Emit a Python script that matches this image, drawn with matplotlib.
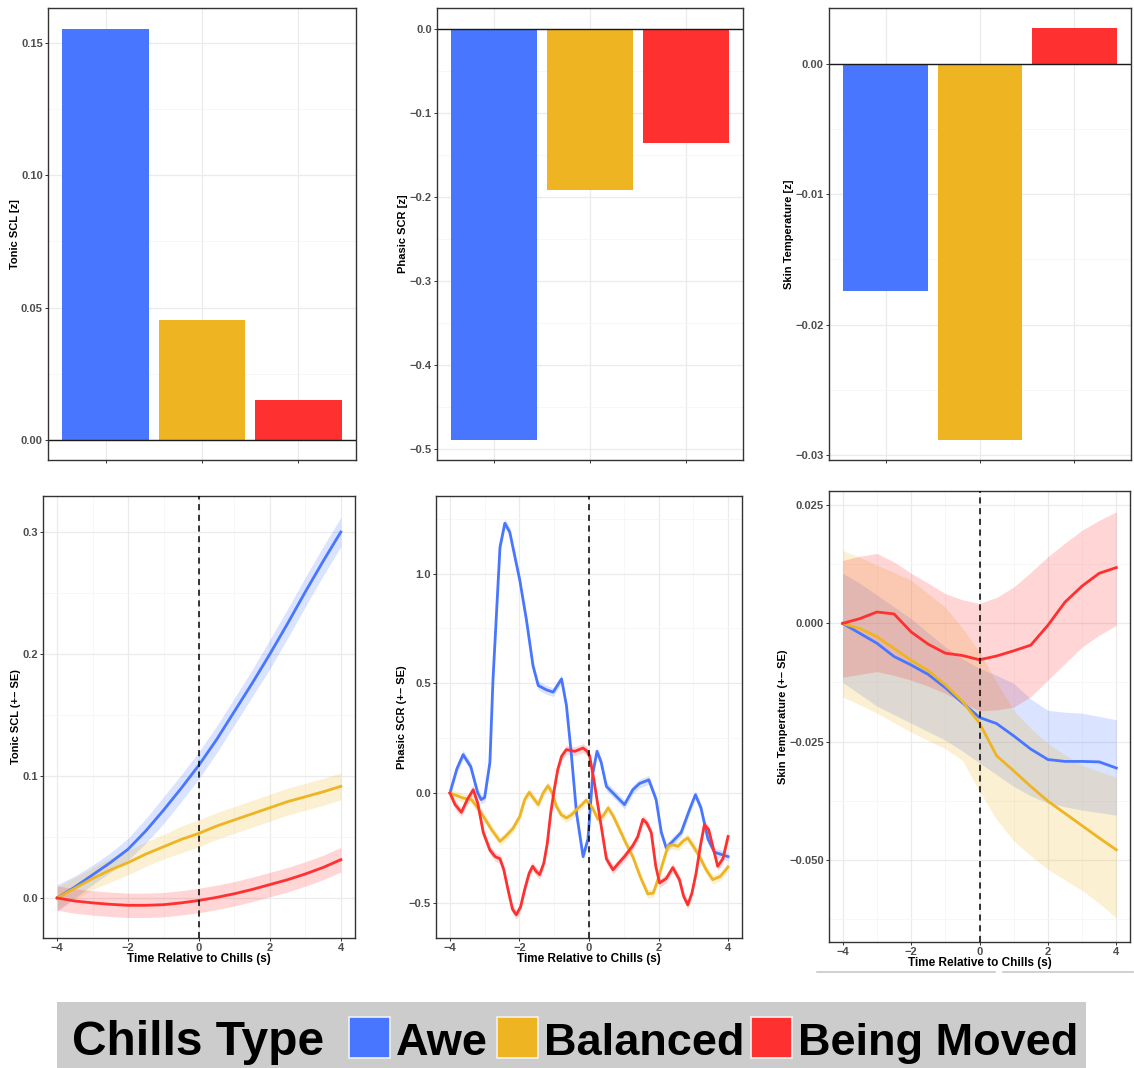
import numpy as np
import matplotlib
matplotlib.use('Agg')
import matplotlib.pyplot as plt
from matplotlib.patches import Rectangle
from matplotlib.lines import Line2D
from matplotlib.ticker import FixedLocator, FuncFormatter

plt.rcParams['font.family'] = ['Liberation Sans', 'DejaVu Sans']

W, H = 1134, 1068

# Chills types and colours
TYPES = ['Awe', 'Balanced', 'Being Moved']
COLORS = ['#4876FF', '#EEB422', '#FF3030']

# Top row: mean z-scores per chills type
tonic_bar = [0.1553, 0.0454, 0.0151]
phasic_bar = [-0.489, -0.192, -0.136]
skin_bar = [-0.01742, -0.02886, 0.00276]

# Bottom left: tonic SCL time course (+- SE)
t_tonic = [-4, -3.5, -3, -2.5, -2, -1.5, -1, -0.5, 0, 0.5, 1, 1.5, 2, 2.5, 3, 3.5, 4]
tonic_awe = [0, 0.009, 0.019, 0.029, 0.040, 0.055, 0.072, 0.090, 0.109, 0.130, 0.153,
             0.176, 0.200, 0.225, 0.251, 0.276, 0.300]
tonic_bal = [0, 0.008, 0.016, 0.023, 0.029, 0.036, 0.042, 0.048, 0.053, 0.059, 0.064,
             0.069, 0.074, 0.079, 0.083, 0.087, 0.0915]
tonic_mov = [0, -0.0025, -0.004, -0.0052, -0.006, -0.006, -0.0055, -0.004, -0.002, 0.0005,
             0.0035, 0.007, 0.011, 0.015, 0.0197, 0.025, 0.0314]
tonic_se_awe = [0.011, 0.009, 0.008, 0.008, 0.009, 0.010, 0.011, 0.011, 0.011, 0.011, 0.011,
                0.011, 0.012, 0.012, 0.012, 0.012, 0.012]
tonic_se_bal = [0.009, 0.009, 0.009, 0.010, 0.010, 0.010, 0.010, 0.011, 0.011, 0.011, 0.011,
                0.011, 0.011, 0.011, 0.011, 0.011, 0.011]
tonic_se_mov = [0.010, 0.010, 0.010, 0.010, 0.010, 0.010, 0.010, 0.010, 0.010, 0.010, 0.010,
                0.010, 0.010, 0.010, 0.010, 0.010, 0.010]

# Bottom middle: phasic SCR time course
t_ph_awe = [-4, -3.8, -3.62, -3.4, -3.2, -3.1, -3.0, -2.85, -2.76, -2.66, -2.56, -2.42, -2.28,
            -1.99, -1.8, -1.61, -1.46, -1.22, -1.03, -0.79, -0.65, -0.51, -0.36, -0.17, -0.03,
            0.11, 0.23, 0.35, 0.5, 0.69, 1.02, 1.26, 1.45, 1.72, 1.93, 2.08, 2.22, 2.41, 2.65,
            2.89, 3.06, 3.22, 3.42, 3.61, 4.0]
ph_awe = [0, 0.11, 0.175, 0.12, 0.0, -0.03, -0.02, 0.14, 0.52, 0.82, 1.12, 1.23, 1.19,
          0.97, 0.79, 0.58, 0.49, 0.47, 0.46, 0.52, 0.40, 0.18, -0.09, -0.29, -0.21,
          0.09, 0.19, 0.14, 0.03, 0.0, -0.053, 0.015, 0.043, 0.06, -0.03, -0.18, -0.25, -0.22,
          -0.18, -0.076, -0.008, -0.068, -0.21, -0.27, -0.29]
t_ph_bal = [-4, -3.62, -3.38, -3.2, -3.04, -2.8, -2.56, -2.4, -2.18, -1.99, -1.85, -1.72, -1.6,
            -1.46, -1.32, -1.18, -1.06, -0.94, -0.8, -0.65, -0.5, -0.36, -0.2, -0.08, 0.1, 0.26,
            0.4, 0.55, 0.7, 0.88, 1.06, 1.26, 1.47, 1.69, 1.85, 1.98, 2.12, 2.27, 2.4, 2.56,
            2.7, 2.84, 3.0, 3.18, 3.37, 3.56, 3.78, 4.0]
ph_bal = [0, -0.023, -0.03, -0.068, -0.106, -0.167, -0.22, -0.198, -0.16, -0.106, -0.03, 0.003,
          -0.023, -0.053, 0.0, 0.033, 0.0, -0.06, -0.099, -0.114, -0.099, -0.076, -0.053, -0.033,
          -0.068, -0.12, -0.106, -0.068, -0.106, -0.167, -0.228, -0.29, -0.38, -0.46, -0.456,
          -0.395, -0.32, -0.243, -0.236, -0.243, -0.22, -0.205, -0.243, -0.29, -0.35, -0.395,
          -0.38, -0.337]
t_ph_mov = [-4, -3.85, -3.67, -3.5, -3.33, -3.2, -3.04, -2.85, -2.7, -2.56, -2.45, -2.33, -2.2,
            -2.09, -1.97, -1.85, -1.72, -1.62, -1.52, -1.42, -1.3, -1.2, -1.1, -1.0, -0.9, -0.79,
            -0.65, -0.41, -0.17, -0.05, 0.02, 0.14, 0.26, 0.38, 0.5, 0.69, 0.85, 1.02, 1.26, 1.4,
            1.55, 1.66, 1.79, 1.92, 2.03, 2.22, 2.41, 2.6, 2.72, 2.84, 2.96, 3.08, 3.2, 3.32,
            3.44, 3.56, 3.7, 3.85, 4.0]
ph_mov = [0, -0.053, -0.088, -0.03, 0.015, -0.046, -0.18, -0.26, -0.29, -0.30, -0.35, -0.44,
          -0.53, -0.555, -0.52, -0.44, -0.365, -0.334, -0.357, -0.372, -0.32, -0.23, -0.09, 0.015,
          0.106, 0.167, 0.198, 0.19, 0.205, 0.19, 0.167, 0.06, -0.06, -0.18, -0.30, -0.35, -0.32,
          -0.29, -0.24, -0.2, -0.12, -0.137, -0.18, -0.334, -0.41, -0.39, -0.34, -0.395, -0.47,
          -0.51, -0.456, -0.365, -0.243, -0.144, -0.167, -0.243, -0.334, -0.30, -0.198]
phasic_se = [0.02, 0.02, 0.02]

# Bottom right: skin temperature time course with SE band limits
t_skin = [-4, -3.5, -3, -2.5, -2, -1.5, -1, -0.5, 0, 0.5, 1, 1.5, 2, 2.5, 3, 3.5, 4]
skin_awe = [0, -0.0021, -0.0042, -0.0070, -0.0088, -0.0108, -0.0136, -0.0168, -0.0199, -0.0212,
            -0.0238, -0.0266, -0.0288, -0.0292, -0.0292, -0.0293, -0.0306]
skin_bal = [0, -0.0011, -0.0028, -0.0053, -0.0078, -0.0100, -0.0130, -0.0165, -0.0211, -0.0280,
            -0.0312, -0.0345, -0.0376, -0.0402, -0.0428, -0.0454, -0.0479]
skin_mov = [0, 0.0010, 0.0024, 0.0020, -0.0018, -0.0044, -0.0063, -0.0068, -0.0077, -0.0069,
            -0.0058, -0.0046, -0.0004, 0.0045, 0.0079, 0.0106, 0.0118]
skin_awe_hi = [0.0106, 0.0085, 0.0060, 0.0035, 0.0010, -0.0020, -0.0050, -0.0075, -0.0095,
               -0.0110, -0.0127, -0.0160, -0.0184, -0.0188, -0.0190, -0.0197, -0.0204]
skin_awe_lo = [-0.0125, -0.0150, -0.0175, -0.0193, -0.0211, -0.0229, -0.0247, -0.0270, -0.0295,
               -0.0320, -0.0345, -0.0365, -0.0380, -0.0388, -0.0395, -0.0400, -0.0406]
skin_bal_hi = [0.0154, 0.0140, 0.0123, 0.0108, 0.0091, 0.0063, 0.0034, -0.0010, -0.0060,
               -0.0125, -0.0184, -0.0222, -0.0254, -0.0278, -0.0300, -0.0313, -0.0325]
skin_bal_lo = [-0.0156, -0.0172, -0.0190, -0.0210, -0.0230, -0.0248, -0.0265, -0.0290, -0.0355,
               -0.0415, -0.0460, -0.0492, -0.0520, -0.0543, -0.0565, -0.0592, -0.0623]
skin_mov_hi = [0.0133, 0.0142, 0.0148, 0.0130, 0.0106, 0.0085, 0.0063, 0.0050, 0.0042, 0.0055,
               0.0077, 0.0108, 0.0141, 0.0170, 0.0197, 0.0218, 0.0236]
skin_mov_lo = [-0.0114, -0.0108, -0.0102, -0.0110, -0.0120, -0.0133, -0.0148, -0.0168, -0.0185,
               -0.0183, -0.0177, -0.0155, -0.0120, -0.0085, -0.0050, -0.0025, -0.0004]


def px(x, y):
    return x / W, 1 - y / H


def axes_px(fig, x0, y0, x1, y1):
    l, t = px(x0, y0)
    r, b = px(x1, y1)
    return fig.add_axes([l, b, r - l, t - b])


def minus_fmt(dec):
    def f(v, pos):
        if abs(v) < 1e-12:
            v = 0.0
        return f"{v:.{dec}f}".replace('-', '\u2212')
    return FuncFormatter(f)


def style(ax, ylabel, major, minor, dec):
    ax.yaxis.set_major_locator(FixedLocator(major))
    ax.yaxis.set_minor_locator(FixedLocator(minor))
    ax.yaxis.set_major_formatter(minus_fmt(dec))
    ax.grid(which='major', color='#EBEBEB', lw=0.9)
    ax.grid(which='minor', color='#F4F4F4', lw=0.5)
    ax.set_axisbelow(True)
    for s in ax.spines.values():
        s.set_color('#333333')
        s.set_linewidth(1.0)
    ax.tick_params(which='major', length=2.2, width=0.7, color='#333333', pad=1.5,
                   labelsize=8, labelcolor='#4D4D4D')
    ax.tick_params(which='minor', length=0)
    for lab in ax.get_xticklabels() + ax.get_yticklabels():
        lab.set_fontweight('bold')
    ax.set_ylabel(ylabel, fontsize=8, fontweight='bold', labelpad=1)


fig = plt.figure(figsize=(W / 100, H / 100), dpi=100)

# ---- top row: bar charts
x = np.arange(len(TYPES))
bar_specs = [
    ((48, 8, 356, 460), tonic_bar, 'Tonic SCL [z]', (-0.0076, 0.1632),
     [0, 0.05, 0.10, 0.15], [0.025, 0.075, 0.125], 2),
    ((437, 8, 743, 460), phasic_bar, 'Phasic SCR [z]', (-0.513, 0.025),
     [0, -0.1, -0.2, -0.3, -0.4, -0.5], [-0.05, -0.15, -0.25, -0.35, -0.45], 1),
    ((829, 8, 1131, 460), skin_bar, 'Skin Temperature [z]', (-0.0304, 0.0043),
     [0, -0.01, -0.02, -0.03], [-0.005, -0.015, -0.025], 2),
]
for box, vals, lab, ylim, major, minor, dec in bar_specs:
    ax = axes_px(fig, *box)
    ax.bar(x, vals, width=0.9, color=COLORS)
    ax.axhline(0, color='#1A1A1A', lw=1.0)
    ax.set_xlim(-0.6, 2.6)
    ax.set_ylim(*ylim)
    ax.set_xticks(x)
    ax.set_xticklabels([''] * len(x))
    style(ax, lab, major, minor, dec)

# ---- bottom row: time courses
x_major = [-4, -2, 0, 2, 4]
x_minor = [-3, -1, 1, 3]


def time_axis(ax):
    ax.set_xlim(-4.4, 4.4)
    ax.xaxis.set_major_locator(FixedLocator(x_major))
    ax.xaxis.set_minor_locator(FixedLocator(x_minor))
    ax.xaxis.set_major_formatter(minus_fmt(0))
    ax.axvline(0, color='black', lw=1.1, ls=(0, (4, 3)), zorder=5)
    ax.set_xlabel('Time Relative to Chills (s)', fontsize=8.5, fontweight='bold', labelpad=0)


# tonic
ax = axes_px(fig, 43, 496, 355, 938)
for m, se, c in zip([tonic_awe, tonic_bal, tonic_mov],
                    [tonic_se_awe, tonic_se_bal, tonic_se_mov], COLORS):
    m, se = np.array(m), np.array(se)
    ax.fill_between(t_tonic, m - se, m + se, color=c, alpha=0.2, lw=0)
    ax.plot(t_tonic, m, color=c, lw=2)
ax.set_ylim(-0.0328, 0.3295)
time_axis(ax)
style(ax, 'Tonic SCL (+\u2013 SE)', [0, 0.1, 0.2, 0.3], [0.05, 0.15, 0.25], 1)

# phasic
ax = axes_px(fig, 436, 496, 742, 938)
for t, m, se, c in zip([t_ph_awe, t_ph_bal, t_ph_mov], [ph_awe, ph_bal, ph_mov],
                       phasic_se, COLORS):
    m = np.array(m)
    ax.fill_between(t, m - se, m + se, color=c, alpha=0.2, lw=0)
    ax.plot(t, m, color=c, lw=2, solid_joinstyle='round')
ax.set_ylim(-0.661, 1.354)
time_axis(ax)
style(ax, 'Phasic SCR (+\u2013 SE)', [-0.5, 0, 0.5, 1.0], [-0.25, 0.25, 0.75, 1.25], 1)

# skin temperature
ax = axes_px(fig, 829, 491, 1130, 942)
for m, lo, hi, c in zip([skin_awe, skin_bal, skin_mov],
                        [skin_awe_lo, skin_bal_lo, skin_mov_lo],
                        [skin_awe_hi, skin_bal_hi, skin_mov_hi], COLORS):
    ax.fill_between(t_skin, lo, hi, color=c, alpha=0.2, lw=0)
    ax.plot(t_skin, m, color=c, lw=2)
ax.set_ylim(-0.0674, 0.028)
time_axis(ax)
style(ax, 'Skin Temperature (+\u2013 SE)', [-0.05, -0.025, 0, 0.025],
      [-0.0625, -0.0375, -0.0125, 0.0125], 3)

# stray rule lines under the last panel
for xa, xb in [(817, 995), (1003, 1133)]:
    (a, ya), (b, _) = px(xa, 972), px(xb, 972)
    fig.add_artist(Line2D([a, b], [ya, ya], color='#C8C8C8', lw=1.2))

# ---- legend
l, t = px(57, 1002)
r, b = px(1086, 1068)
fig.add_artist(Rectangle((l, b), r - l, t - b, facecolor='#CCCCCC', edgecolor='none',
                         transform=fig.transFigure))
fig.text(*px(72, 1055), 'Chills Type', fontsize=34.5, fontweight='bold', va='baseline')
key_x = [349, 497, 751]
text_x = [396, 544, 798]
for kx, tx, name, c in zip(key_x, text_x, TYPES, COLORS):
    kl, kt = px(kx, 1017)
    kr, kb = px(kx + 41, 1058)
    fig.add_artist(Rectangle((kl, kb), kr - kl, kt - kb, facecolor=c, edgecolor='#F2F2F2',
                             lw=1.2, transform=fig.transFigure))
    fig.text(*px(tx, 1055), name, fontsize=32.5, fontweight='bold', va='baseline')

fig.savefig('out.png', dpi=100)
